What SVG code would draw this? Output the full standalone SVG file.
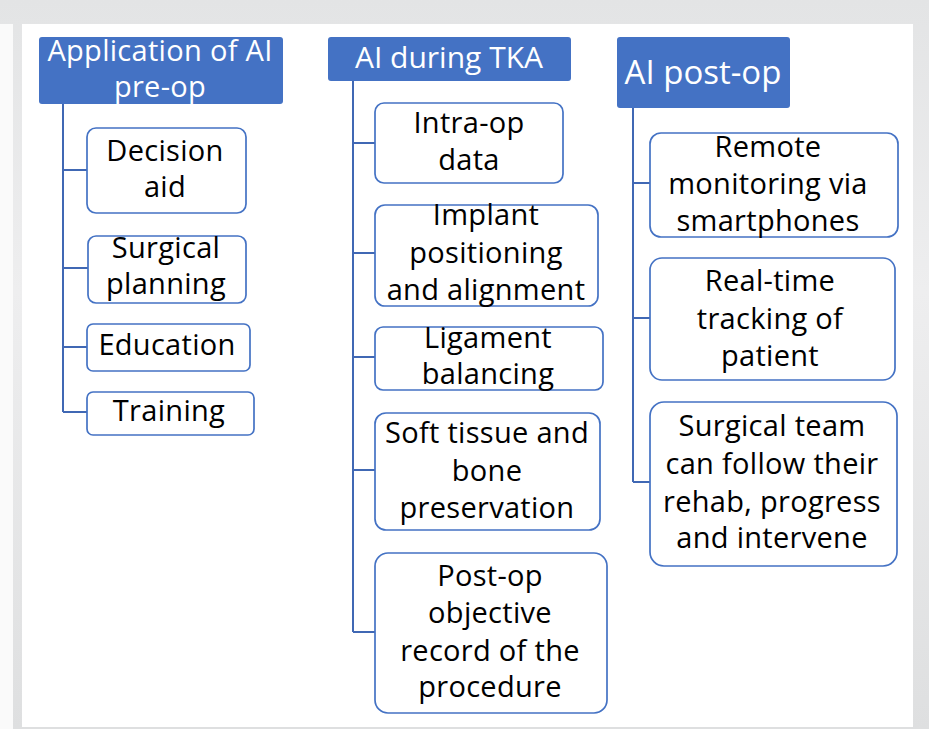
<svg xmlns="http://www.w3.org/2000/svg" width="929" height="729" viewBox="0 0 929 729">
  <defs>
    <linearGradient id="frame" x1="0" y1="0" x2="0" y2="1">
      <stop offset="0" stop-color="#e3e4e5"/>
      <stop offset="0.4" stop-color="#eeeeef"/>
      <stop offset="1" stop-color="#dedfe0"/>
    </linearGradient>
    <style>
      .hdr { fill: #4472c4; }
      .hdr-t { fill: #ffffff; font-family: "Open Sans", "Noto Sans", sans-serif; text-anchor: middle; }
      .box { fill: #ffffff; stroke: #4472c4; stroke-width: 1.7; }
      .box-t { fill: #000000; font-family: "Open Sans", "Noto Sans", sans-serif; font-size: 29px; letter-spacing: 0.3px; text-anchor: middle; }
      .link { fill: none; stroke: #4068b4; stroke-width: 2; }
    </style>
  </defs>

  <!-- page frame -->
  <rect x="0" y="0" width="929" height="729" fill="url(#frame)"/>
  <rect x="0" y="24" width="13" height="705" fill="#fafafa"/>
  <rect x="22" y="24" width="891" height="703" fill="#ffffff"/>

  <!-- tree connectors -->
  <g id="connectors">
    <path class="link" d="M63 104 V412 M63 170 H87 M63 268 H88 M63 347 H87 M63 412 H87"/>
    <path class="link" d="M353 81 V632 M353 143 H375 M353 253 H375 M353 357 H375 M353 470 H375 M353 632 H375"/>
    <path class="link" d="M633 108 V482 M633 183 H650 M633 318 H650 M633 482 H650"/>
  </g>

  <!-- column 1: pre-op -->
  <g id="pre-op">
    <rect class="hdr" x="39" y="37" width="244" height="67" rx="3"/>
    <text class="hdr-t" font-size="29" x="160" y="61" letter-spacing="0.3">Application of AI</text>
    <text class="hdr-t" font-size="29" x="160" y="97" letter-spacing="0.3">pre-op</text>
  </g>
  <g id="decision-aid">
    <rect class="box" x="87" y="128" width="159" height="85" rx="9"/>
    <text class="box-t" x="165" y="161">Decision</text>
    <text class="box-t" x="165" y="197">aid</text>
  </g>
  <g id="surgical-planning">
    <rect class="box" x="88" y="236" width="158" height="67" rx="8"/>
    <text class="box-t" x="166" y="258">Surgical</text>
    <text class="box-t" x="166" y="294">planning</text>
  </g>
  <g id="education">
    <rect class="box" x="87" y="324" width="163" height="47" rx="6"/>
    <text class="box-t" x="167" y="355">Education</text>
  </g>
  <g id="training">
    <rect class="box" x="87" y="392" width="167" height="43" rx="6"/>
    <text class="box-t" x="169" y="421">Training</text>
  </g>

  <!-- column 2: during TKA -->
  <g id="during-tka">
    <rect class="hdr" x="328" y="37" width="243" height="44" rx="3"/>
    <text class="hdr-t" font-size="30" x="449" y="68">AI during TKA</text>
  </g>
  <g id="intra-op-data">
    <rect class="box" x="375" y="103" width="188" height="80" rx="9"/>
    <text class="box-t" x="469" y="133">Intra-op</text>
    <text class="box-t" x="469" y="170">data</text>
  </g>
  <g id="implant-positioning">
    <rect class="box" x="375" y="205" width="223" height="101" rx="10"/>
    <text class="box-t" x="486" y="225">Implant</text>
    <text class="box-t" x="486" y="263">positioning</text>
    <text class="box-t" x="486" y="300">and alignment</text>
  </g>
  <g id="ligament-balancing">
    <rect class="box" x="375" y="327" width="228" height="63" rx="8"/>
    <text class="box-t" x="488" y="348">Ligament</text>
    <text class="box-t" x="488" y="384">balancing</text>
  </g>
  <g id="soft-tissue">
    <rect class="box" x="375" y="413" width="225" height="117" rx="11"/>
    <text class="box-t" x="487" y="443">Soft tissue and</text>
    <text class="box-t" x="487" y="481">bone</text>
    <text class="box-t" x="487" y="518">preservation</text>
  </g>
  <g id="post-op-record">
    <rect class="box" x="375" y="553" width="232" height="160" rx="13"/>
    <text class="box-t" x="490" y="586">Post-op</text>
    <text class="box-t" x="490" y="623">objective</text>
    <text class="box-t" x="490" y="661">record of the</text>
    <text class="box-t" x="490" y="697">procedure</text>
  </g>

  <!-- column 3: post-op -->
  <g id="post-op">
    <rect class="hdr" x="617" y="37" width="173" height="71" rx="3"/>
    <text class="hdr-t" font-size="33" x="703" y="84">AI post-op</text>
  </g>
  <g id="remote-monitoring">
    <rect class="box" x="650" y="133" width="248" height="104" rx="11"/>
    <text class="box-t" x="768" y="157">Remote</text>
    <text class="box-t" x="768" y="194">monitoring via</text>
    <text class="box-t" x="768" y="231">smartphones</text>
  </g>
  <g id="real-time-tracking">
    <rect class="box" x="650" y="258" width="245" height="122" rx="12"/>
    <text class="box-t" x="770" y="291">Real-time</text>
    <text class="box-t" x="770" y="329">tracking of</text>
    <text class="box-t" x="770" y="366">patient</text>
  </g>
  <g id="team-follow-up">
    <rect class="box" x="650" y="402" width="247" height="164" rx="14"/>
    <text class="box-t" x="772" y="436">Surgical team</text>
    <text class="box-t" x="772" y="474">can follow their</text>
    <text class="box-t" x="772" y="512">rehab, progress</text>
    <text class="box-t" x="772" y="548">and intervene</text>
  </g>
</svg>
